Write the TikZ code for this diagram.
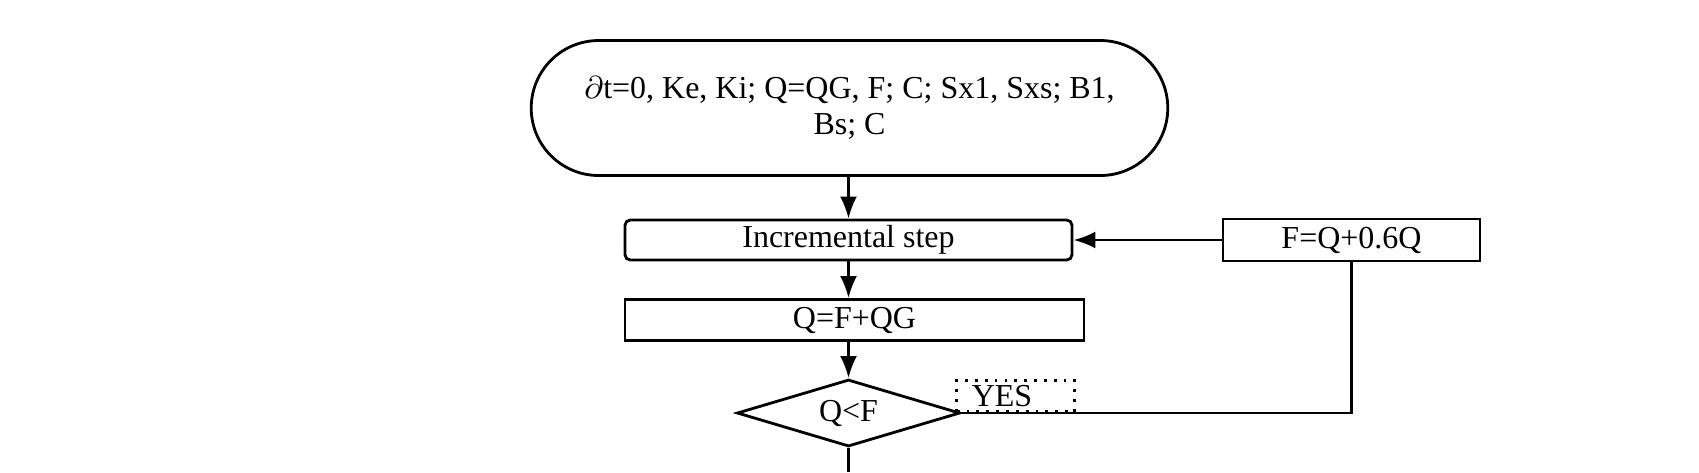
\documentclass[tikz,border=0pt]{standalone}
\usepackage{fontspec}
\setmainfont{Liberation Serif}
\usetikzlibrary{positioning,arrows.meta,shapes.misc,shapes.geometric}
\tikzset{
  termbox/.style={rounded rectangle, draw, line width=.8pt, minimum width=6.6cm, minimum height=1.35cm, align=center},
  stepbox/.style={draw, line width=.8pt, rounded corners=1.5pt, minimum width=4.47cm, minimum height=0.40cm, inner sep=0pt},
  procbox/.style={draw, line width=.8pt, minimum height=0.41cm, inner sep=0pt},
  decbox/.style ={diamond, draw, line width=.8pt, aspect=3.33, minimum width=2.23cm, minimum height=0.67cm, inner sep=0pt},
  tagbox/.style ={draw, dotted, line width=.8pt, text width=0.88cm, align=left, inner xsep=0.15cm, inner ysep=0pt, minimum height=0.31cm},
  ln/.style     ={draw, line width=.8pt, -{Latex[length=2.2mm,width=1.7mm]}},
  lnp/.style    ={draw, line width=.8pt},
}

\begin{document}
\begin{tikzpicture}[font=\fontsize{9.1}{10.1}\selectfont]
    \useasboundingbox (0,0) rectangle (16.99,-4.72);
    \node[termbox] (start) at (8.495,-1.08) {$\partial$t=0, Ke, Ki; Q=QG, F; C; Sx1, Sxs; B1,\\ Bs; C};
    \node[stepbox] (incr) at (8.485,-2.40) {Incremental step};
    \node[procbox,minimum width=2.57cm,minimum height=0.42cm] (corr) at (13.515,-2.40) {F=Q+0.6Q};
    \node[procbox,minimum width=4.59cm] (upd) at (8.545,-3.20) {Q=F+QG};
    \node[decbox] (cond) at (8.485,-4.13) {Q<F};
    \node[tagbox,anchor=south west,xshift=-0.06cm] (yes) at (cond.east) {YES};
    \coordinate (bend) at (corr.south |- cond.east);
    \coordinate (out) at (cond.south |- 0,-4.72);

    \draw[ln] (start.south -| incr.north) -- (incr.north);
    \draw[ln] (corr.west) -- (incr.east);
    \draw[ln] (incr.south) -- (incr.south |- upd.north);
    \draw[ln] (incr.south |- upd.south) -- (cond.north);
    \draw[lnp] (cond.east) -- (bend) -- (corr.south);
    \draw[lnp] (cond.south) -- (out);
\end{tikzpicture}
\end{document}
